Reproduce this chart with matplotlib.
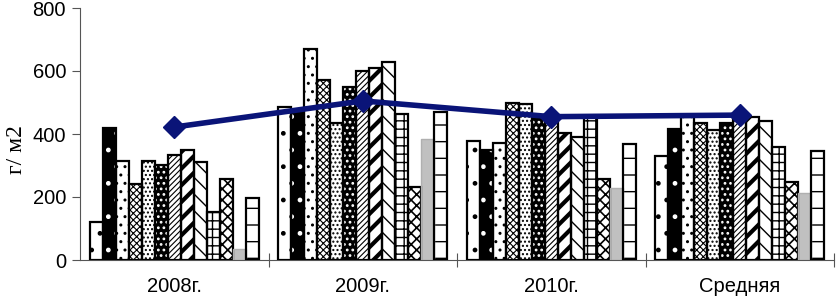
import numpy as np
import matplotlib.pyplot as plt

# data
groups = ['2008г.', '2009г.', '2010г.', 'Средняя']
s01 = [122, 485, 379, 330]
s02 = [418, 470, 349, 417]
s03 = [315, 669, 371, 455]
s04 = [240, 571, 497, 436]
s05 = [314, 434, 495, 413]
s06 = [302, 550, 455, 434]
s07 = [333, 601, 439, 455]
s08 = [350, 611, 402, 455]
s09 = [312, 627, 391, 442]
s10 = [151, 464, 455, 360]
s11 = [256, 232, 256, 249]
s12 = [34, 383, 230, 214]
s13 = [198, 471, 368, 347]
line_vals = [422, 505, 455, 460]

series = [s01, s02, s03, s04, s05, s06, s07, s08, s09, s10, s11, s12, s13]
# face colour, hatch colour, hatch, hatch linewidth
styles = [
    ('white', 'black', '.', 1.0),
    ('black', 'white', '.', 1.0),
    ('white', 'black', '..', 1.0),
    ('white', 'black', 'xxxxx', 0.8),
    ('white', 'black', '....', 1.0),
    ('black', 'white', '...', 1.2),
    ('white', 'black', '//////', 0.8),
    ('white', 'black', '//', 3.0),
    ('white', 'black', '\\\\', 1.0),
    ('white', 'black', '++', 1.0),
    ('white', 'black', 'xxx', 1.2),
    ('#c0c0c0', '#c0c0c0', '', 1.0),
    ('white', 'black', '-', 1.0),
]

fig = plt.figure(figsize=(8.36, 2.96), dpi=100)
ax = fig.add_axes([80 / 836, 36 / 296, 754 / 836, 252 / 296])

x = np.arange(len(groups))
n = len(series)
w = 13 / 188.5
offsets = (np.arange(n) - (n - 1) / 2) * w

for i, vals in enumerate(series):
    face, hc, hatch, hlw = styles[i]
    bars = ax.bar(x + offsets[i], vals, w, facecolor=face, edgecolor=hc,
                  hatch=hatch, linewidth=0, zorder=2)
    for b in bars:
        if hasattr(b, 'set_hatch_linewidth'):
            b.set_hatch_linewidth(hlw)
    if i == 11:
        ax.bar(x + offsets[i], vals, w, fill=False, edgecolor='#b0b0b0',
               linewidth=1.0, zorder=3)
    else:
        ax.bar(x + offsets[i], vals, w, fill=False, edgecolor='black',
               linewidth=1.6, zorder=3)

ax.plot(x, line_vals, color='#0a1478', lw=4, marker='D', markersize=11,
        zorder=5)

ax.set_xlim(-0.5, 3.5)
ax.set_ylim(0, 800)
ax.set_yticks([0, 200, 400, 600, 800])
ax.set_xticks(x)
ax.set_xticklabels(groups)
ax.set_xticks([0.5, 1.5, 2.5, 3.5], minor=True)
ax.tick_params(axis='x', which='major', length=0, pad=12)
ax.tick_params(axis='x', which='minor', direction='inout', length=10,
               width=0.8, color='#555555')
ax.tick_params(axis='y', direction='out', length=6, width=0.8,
               color='#555555', pad=4)
for lab in ax.get_xticklabels() + ax.get_yticklabels():
    lab.set_fontfamily('Liberation Sans')
    lab.set_fontsize(14.5)

ax.spines['top'].set_visible(False)
ax.spines['right'].set_visible(False)
ax.spines['left'].set_color('#555555')
ax.spines['bottom'].set_color('#555555')
ax.spines['left'].set_linewidth(0.8)
ax.spines['bottom'].set_linewidth(0.8)

ax.set_ylabel('г/ м2', fontfamily='Liberation Serif', fontsize=17)
ax.yaxis.set_label_coords(-0.07, 0.44)

plt.savefig('out.png', dpi=100)
